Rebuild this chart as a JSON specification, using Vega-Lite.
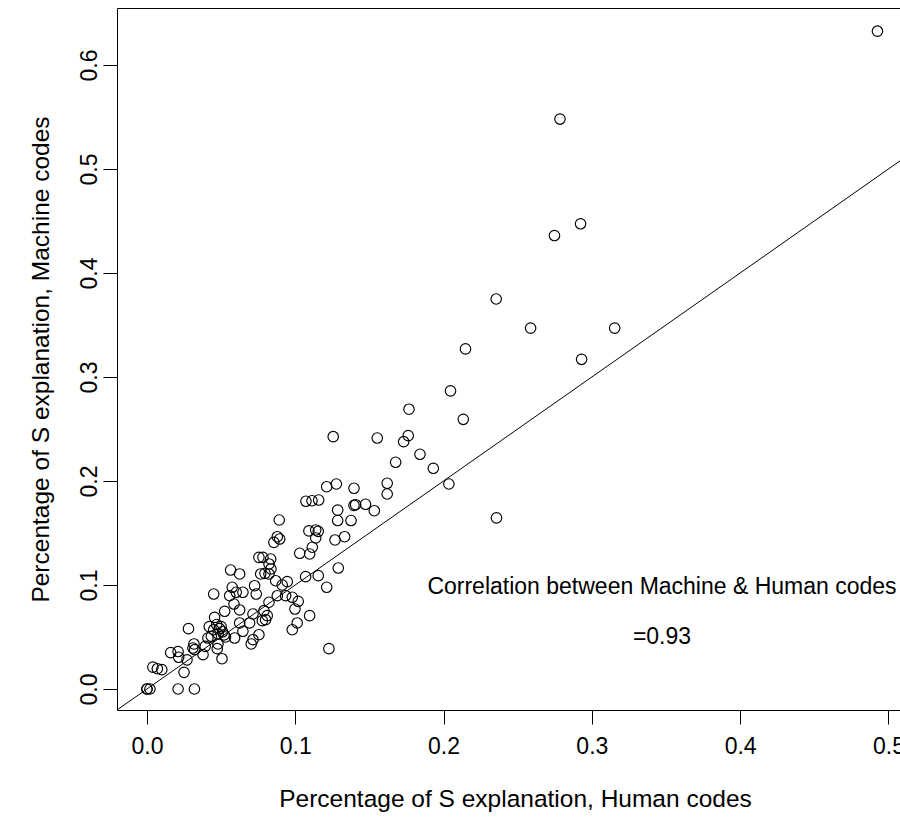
{
  "$schema": "https://vega.github.io/schema/vega-lite/v6.json",
  "width": 783,
  "height": 702,
  "autosize": {"type": "none"},
  "padding": {"left": 117, "top": 8, "right": 0, "bottom": 117},
  "background": "white",
  "config": {
    "view": {"stroke": null},
    "font": "Liberation Sans",
    "axis": {
      "domainColor": "black", "domainWidth": 1,
      "tickColor": "black", "tickWidth": 1, "tickSize": 14,
      "labelColor": "black", "titleColor": "black",
      "labelFont": "Liberation Sans", "titleFont": "Liberation Sans",
      "labelFontSize": 23, "titleFontSize": 24.5, "titleFontWeight": "normal",
      "grid": false, "labelFlush": false, "labelOverlap": false
    }
  },
  "datasets": {
    "pts": [
      {"h": 0.000, "m": 0.000}, {"h": 0.000, "m": 0.000}, {"h": 0.002, "m": 0.000}, {"h": 0.021, "m": 0.000}, {"h": 0.032, "m": 0.000},
      {"h": 0.004, "m": 0.021}, {"h": 0.007, "m": 0.0195}, {"h": 0.010, "m": 0.0186}, {"h": 0.025, "m": 0.016},
      {"h": 0.016, "m": 0.035}, {"h": 0.021, "m": 0.036}, {"h": 0.0214, "m": 0.0305}, {"h": 0.027, "m": 0.028},
      {"h": 0.0317, "m": 0.0433}, {"h": 0.031, "m": 0.0394}, {"h": 0.0322, "m": 0.0378}, {"h": 0.028, "m": 0.058},
      {"h": 0.0393, "m": 0.041}, {"h": 0.0378, "m": 0.033}, {"h": 0.0474, "m": 0.0388}, {"h": 0.0479, "m": 0.0433},
      {"h": 0.0411, "m": 0.049}, {"h": 0.0434, "m": 0.0507}, {"h": 0.0506, "m": 0.0291},
      {"h": 0.0591, "m": 0.049}, {"h": 0.0647, "m": 0.0555}, {"h": 0.0692, "m": 0.0635}, {"h": 0.0625, "m": 0.0635},
      {"h": 0.0715, "m": 0.0474}, {"h": 0.0703, "m": 0.0433},
      {"h": 0.042, "m": 0.060}, {"h": 0.045, "m": 0.057}, {"h": 0.047, "m": 0.062}, {"h": 0.049, "m": 0.058}, {"h": 0.051, "m": 0.055},
      {"h": 0.052, "m": 0.052}, {"h": 0.050, "m": 0.060}, {"h": 0.053, "m": 0.050}, {"h": 0.048, "m": 0.053},
      {"h": 0.0524, "m": 0.0747}, {"h": 0.0456, "m": 0.0689}, {"h": 0.0715, "m": 0.0721},
      {"h": 0.0587, "m": 0.0817}, {"h": 0.0625, "m": 0.076}, {"h": 0.045, "m": 0.0913},
      {"h": 0.0575, "m": 0.0978}, {"h": 0.0558, "m": 0.0897}, {"h": 0.0602, "m": 0.093}, {"h": 0.0647, "m": 0.093},
      {"h": 0.0726, "m": 0.0993}, {"h": 0.0737, "m": 0.0913},
      {"h": 0.0564, "m": 0.1144}, {"h": 0.0625, "m": 0.1106},
      {"h": 0.0755, "m": 0.1266}, {"h": 0.0782, "m": 0.1266}, {"h": 0.0834, "m": 0.125}, {"h": 0.0823, "m": 0.1202},
      {"h": 0.0767, "m": 0.1106}, {"h": 0.0796, "m": 0.1112}, {"h": 0.0823, "m": 0.1106}, {"h": 0.0836, "m": 0.1154},
      {"h": 0.0868, "m": 0.1041}, {"h": 0.0912, "m": 0.100}, {"h": 0.0946, "m": 0.1032},
      {"h": 0.107, "m": 0.108}, {"h": 0.1155, "m": 0.109}, {"h": 0.129, "m": 0.1163}, {"h": 0.1212, "m": 0.0978},
      {"h": 0.0823, "m": 0.0834}, {"h": 0.0879, "m": 0.0897}, {"h": 0.0935, "m": 0.0897}, {"h": 0.098, "m": 0.0882},
      {"h": 0.102, "m": 0.0843}, {"h": 0.0998, "m": 0.0769},
      {"h": 0.0789, "m": 0.0753}, {"h": 0.0811, "m": 0.0705}, {"h": 0.1097, "m": 0.0705},
      {"h": 0.080, "m": 0.0666}, {"h": 0.0778, "m": 0.0657}, {"h": 0.1013, "m": 0.0635}, {"h": 0.098, "m": 0.057},
      {"h": 0.0755, "m": 0.0522}, {"h": 0.1227, "m": 0.0388},
      {"h": 0.0879, "m": 0.1464}, {"h": 0.0895, "m": 0.1442}, {"h": 0.0856, "m": 0.141}, {"h": 0.0892, "m": 0.1625},
      {"h": 0.1092, "m": 0.152}, {"h": 0.1138, "m": 0.1529}, {"h": 0.1155, "m": 0.1516},
      {"h": 0.1138, "m": 0.1452}, {"h": 0.1268, "m": 0.1433}, {"h": 0.1333, "m": 0.1464},
      {"h": 0.1115, "m": 0.1363}, {"h": 0.1097, "m": 0.1298}, {"h": 0.103, "m": 0.1305},
      {"h": 0.1286, "m": 0.162}, {"h": 0.1376, "m": 0.162}, {"h": 0.1286, "m": 0.172},
      {"h": 0.1072, "m": 0.1805}, {"h": 0.1113, "m": 0.181}, {"h": 0.1158, "m": 0.1817},
      {"h": 0.1396, "m": 0.1766}, {"h": 0.1407, "m": 0.1772}, {"h": 0.1474, "m": 0.1776}, {"h": 0.1533, "m": 0.1714},
      {"h": 0.1212, "m": 0.1945}, {"h": 0.1277, "m": 0.1971}, {"h": 0.1396, "m": 0.193},
      {"h": 0.162, "m": 0.1978}, {"h": 0.162, "m": 0.1875},
      {"h": 0.1256, "m": 0.2426}, {"h": 0.1553, "m": 0.2413},
      {"h": 0.1677, "m": 0.218}, {"h": 0.1731, "m": 0.2378}, {"h": 0.1762, "m": 0.2436}, {"h": 0.1767, "m": 0.269},
      {"h": 0.1841, "m": 0.2257}, {"h": 0.1931, "m": 0.2122}, {"h": 0.2036, "m": 0.1971},
      {"h": 0.2047, "m": 0.2867}, {"h": 0.2133, "m": 0.2593}, {"h": 0.2148, "m": 0.327},
      {"h": 0.2355, "m": 0.375}, {"h": 0.2357, "m": 0.1645},
      {"h": 0.2587, "m": 0.347}, {"h": 0.2748, "m": 0.436}, {"h": 0.2785, "m": 0.548},
      {"h": 0.2924, "m": 0.4473}, {"h": 0.2931, "m": 0.317}, {"h": 0.3154, "m": 0.347},
      {"h": 0.4926, "m": 0.6325}
    ],
    "diag": [{"h": -0.0202, "m": -0.0202}, {"h": 0.5078, "m": 0.5078}],
    "ann": [
      {"h": 0.3473, "m": 0.0981, "label": "Correlation between Machine & Human codes"},
      {"h": 0.3473, "m": 0.050, "label": "=0.93"}
    ]
  },
  "layer": [
    {
      "data": {"name": "pts"},
      "mark": {"type": "point", "shape": "circle", "filled": false, "stroke": "black", "strokeWidth": 1.15, "size": 110, "opacity": 1},
      "encoding": {
        "x": {"field": "h", "type": "quantitative",
          "scale": {"domain": [-0.0202, 0.5078], "nice": false, "zero": false},
          "axis": {"orient": "bottom", "values": [0, 0.1, 0.2, 0.3, 0.4, 0.5], "format": ".1f",
            "labelPadding": 11, "labelBaseline": "top", "titlePadding": 29, "titleX": 398,
            "title": "Percentage of S explanation, Human codes"}},
        "y": {"field": "m", "type": "quantitative",
          "scale": {"domain": [-0.0202, 0.6548], "nice": false, "zero": false},
          "axis": {"values": [0, 0.1, 0.2, 0.3, 0.4, 0.5, 0.6], "format": ".1f",
            "labelAngle": 270, "labelAlign": "center", "labelBaseline": "alphabetic", "labelPadding": 7,
            "titlePadding": 25, "title": "Percentage of S explanation, Machine codes"}}
      }
    },
    {
      "data": {"name": "diag"},
      "mark": {"type": "line", "color": "black", "strokeWidth": 1},
      "encoding": {
        "x": {"field": "h", "type": "quantitative",
          "scale": {"domain": [-0.0202, 0.5078], "nice": false, "zero": false},
          "axis": {"orient": "top", "labels": false, "ticks": false, "title": null, "domain": true}},
        "y": {"field": "m", "type": "quantitative",
          "scale": {"domain": [-0.0202, 0.6548], "nice": false, "zero": false},
          "axis": {"values": [0, 0.1, 0.2, 0.3, 0.4, 0.5, 0.6], "format": ".1f",
            "labelAngle": 270, "labelAlign": "center", "labelBaseline": "alphabetic", "labelPadding": 7,
            "titlePadding": 25, "title": "Percentage of S explanation, Machine codes"}}
      }
    },
    {
      "data": {"name": "ann"},
      "mark": {"type": "text", "font": "Liberation Sans", "fontSize": 23, "color": "black", "align": "center", "baseline": "middle"},
      "encoding": {
        "x": {"field": "h", "type": "quantitative",
          "scale": {"domain": [-0.0202, 0.5078], "nice": false, "zero": false}, "axis": null},
        "y": {"field": "m", "type": "quantitative",
          "scale": {"domain": [-0.0202, 0.6548], "nice": false, "zero": false},
          "axis": {"values": [0, 0.1, 0.2, 0.3, 0.4, 0.5, 0.6], "format": ".1f",
            "labelAngle": 270, "labelAlign": "center", "labelBaseline": "alphabetic", "labelPadding": 7,
            "titlePadding": 25, "title": "Percentage of S explanation, Machine codes"}},
        "text": {"field": "label"}
      }
    }
  ],
  "resolve": {"axis": {"x": "independent"}}
}
